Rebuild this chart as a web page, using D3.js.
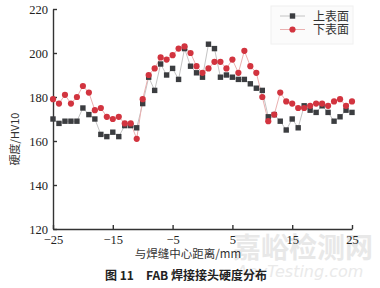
<!DOCTYPE html>
<html>
<head>
<meta charset="utf-8">
<script src="https://cdn.jsdelivr.net/npm/d3@7"></script>
<style>
  body { margin: 0; background: #fff; }
  svg { display: block; }
</style>
</head>
<body>
<svg width="380" height="288"></svg>
<script>
const dist = d3.range(-25, 26)
const upper = [170, 168, 169, 169, 169, 175, 172, 170, 163, 162, 164, 162, 167, 167, 166,
  177, 189, 183, 195, 190, 193, 188, 202, 194, 191, 189, 204, 202, 189, 190, 189,
  188, 188, 186, 184, 183, 171, 172, 169, 165, 170, 166, 176, 174, 173, 176, 173,
  169, 171, 174, 173]
const lower = [179, 177, 181, 177, 180, 185, 182, 174, 175, 171, 170, 171, 168, 168, 161,
  179, 190, 193, 198, 197, 199, 202, 203, 200, 194, 191, 193, 196, 196, 193, 197,
  191, 201, 194, 191, 180, 169, 172, 182, 178, 177, 175, 175, 176, 177, 177, 176,
  178, 179, 176, 178]
const xTicks = [-25, -15, -5, 5, 15, 25]
const yTicks = [120, 140, 160, 180, 200, 220]
const seriesNames = ["上表面", "下表面"]

const svg = d3.select("svg")
const margin = {top: 9, right: 28, bottom: 59, left: 53}
const w = 380 - margin.left - margin.right
const h = 288 - margin.top - margin.bottom
const serif = "'Liberation Serif', 'DejaVu Serif', serif"
const cjk = "'Noto Sans CJK SC', sans-serif"

// watermark
svg.append("text")
  .attr("x", 303).attr("y", 258)
  .attr("text-anchor", "middle")
  .attr("font-family", cjk)
  .attr("font-size", 28)
  .attr("font-weight", "bold")
  .attr("fill", "#e8e8e8")
  .text("嘉峪检测网")
svg.append("text")
  .attr("x", 300).attr("y", 277)
  .attr("text-anchor", "middle")
  .attr("font-family", "'DejaVu Sans', sans-serif")
  .attr("font-size", 16)
  .attr("font-style", "italic")
  .attr("fill", "#eaeaea")
  .text("AnyTesting.com")

const g = svg.append("g").attr("transform", `translate(${margin.left},${margin.top})`)

const x = d3.scaleLinear().domain([-25, 25]).range([0, w])
const y = d3.scaleLinear().domain([120, 220]).range([h, 0])

const fmt = d => d < 0 ? "\u2212" + Math.abs(d) : d

g.append("g")
  .attr("transform", `translate(0,${h})`)
  .call(d3.axisBottom(x).tickValues(xTicks).tickSizeInner(-4).tickSizeOuter(0).tickPadding(6).tickFormat(fmt))
g.append("g")
  .call(d3.axisLeft(y).tickValues(yTicks).tickSizeInner(-4).tickSizeOuter(0).tickPadding(5))

g.selectAll(".domain, .tick line").attr("stroke", "#333").attr("stroke-width", 1.4)
g.selectAll(".tick text").attr("font-family", serif).attr("font-size", 12.5).attr("fill", "#222")

const line = d3.line().x((d, i) => x(dist[i])).y(d => y(d))

g.append("path").datum(upper)
  .attr("d", line).attr("fill", "none").attr("stroke", "#c4c4c4").attr("stroke-width", 1)
g.append("path").datum(lower)
  .attr("d", line).attr("fill", "none").attr("stroke", "#eab0b0").attr("stroke-width", 1)

g.selectAll(".sq").data(upper).enter().append("rect")
  .attr("x", (d, i) => x(dist[i]) - 2.7)
  .attr("y", d => y(d) - 2.7)
  .attr("width", 5.4).attr("height", 5.4)
  .attr("fill", "#3b3d40")

g.selectAll(".ci").data(lower).enter().append("circle")
  .attr("cx", (d, i) => x(dist[i]))
  .attr("cy", d => y(d))
  .attr("r", 3.1)
  .attr("fill", "#d2343f")

// legend
const lg = svg.append("g").attr("transform", "translate(271,6)")
lg.append("rect").attr("width", 82).attr("height", 38).attr("fill", "#fbfbfb").attr("stroke", "#f0f0f0")
seriesNames.forEach((name, i) => {
  const yy = 10 + i * 13.5
  lg.append("line").attr("x1", 9).attr("x2", 34).attr("y1", yy).attr("y2", yy)
    .attr("stroke", i == 0 ? "#c4c4c4" : "#eab0b0").attr("stroke-width", 1)
  if (i == 0) {
    lg.append("rect").attr("x", 21.5 - 2.7).attr("y", yy - 2.7).attr("width", 5.4).attr("height", 5.4).attr("fill", "#3b3d40")
  } else {
    lg.append("circle").attr("cx", 21.5).attr("cy", yy).attr("r", 3.1).attr("fill", "#d2343f")
  }
  lg.append("text").attr("x", 42).attr("y", yy + 4.5)
    .attr("font-family", cjk).attr("font-size", 12).attr("fill", "#333")
    .text(name)
})

// axis titles
svg.append("text")
  .attr("transform", `translate(19,${margin.top + h / 2 + 20}) rotate(-90)`)
  .attr("text-anchor", "middle")
  .attr("font-family", cjk).attr("font-size", 11).attr("fill", "#333")
  .text("硬度/HV10")
svg.append("text")
  .attr("x", 188).attr("y", 258)
  .attr("text-anchor", "middle")
  .attr("font-family", cjk).attr("font-size", 11.5).attr("fill", "#333")
  .text("与焊缝中心距离/mm")

svg.append("text")
  .attr("x", 186).attr("y", 280)
  .attr("text-anchor", "middle")
  .attr("font-family", cjk).attr("font-size", 12).attr("font-weight", "bold").attr("fill", "#222")
  .text("图 11\u3000FAB 焊接接头硬度分布")
</script>
</body>
</html>
